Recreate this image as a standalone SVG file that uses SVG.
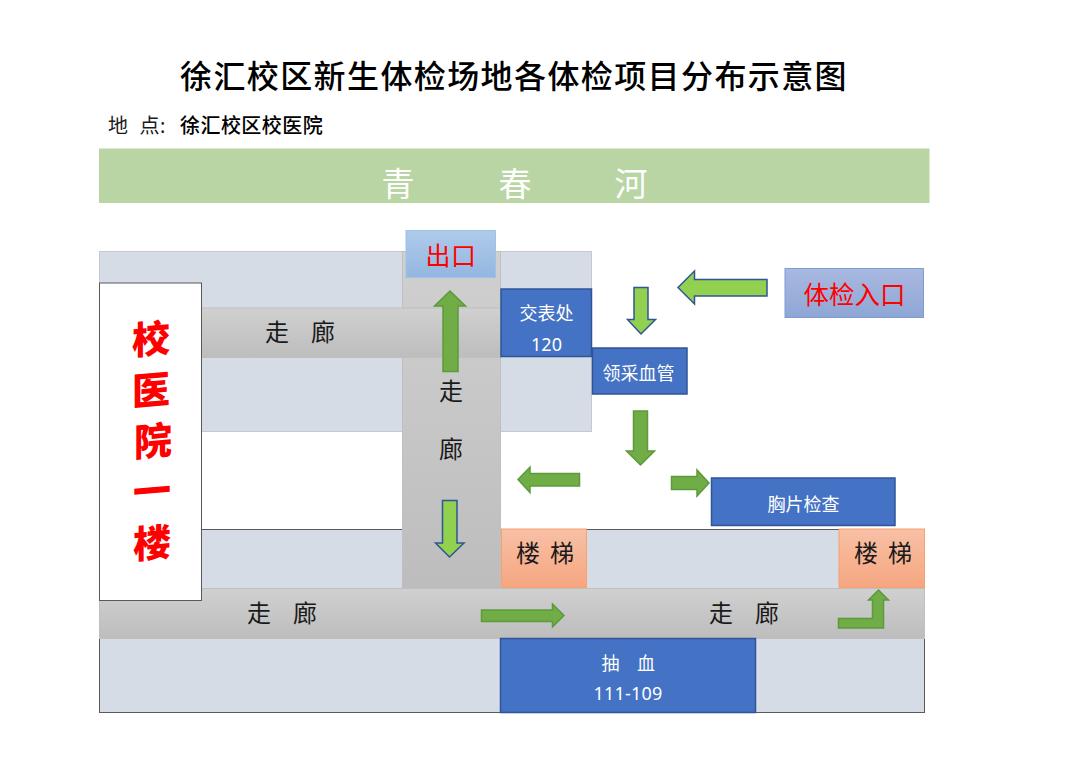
<svg xmlns="http://www.w3.org/2000/svg" width="1080" height="764" viewBox="0 0 1080 764">
<style>
text{font-family:"Noto Sans","Noto Sans CJK SC",sans-serif;text-anchor:middle}
.hall{fill:url(#gh);stroke:#bfbfbf;stroke-width:1}
.blue{fill:#4472c4;stroke:#2f5597;stroke-width:1.5}
.stair{fill:url(#gs);stroke:#f4a26f;stroke-width:1}
.w{fill:#fff;font-size:18px}
.k{fill:#1a1a1a;font-size:24px}
.dk{fill:#70ad47;stroke:#5c9a3a;stroke-width:1.500}
.lt{fill:#92d050;stroke:#2f5597;stroke-width:1.500}
.red{fill:#f00}
.cal{fill:#f00;font-size:38px;font-weight:900}
</style>
<defs>
<linearGradient id="gh" x1="0" y1="0" x2="0" y2="1"><stop offset="0" stop-color="#d0d0d0"/><stop offset="1" stop-color="#bdbdbd"/></linearGradient>
<linearGradient id="gs" x1="0" y1="0" x2="0" y2="1"><stop offset="0" stop-color="#f8c0a6"/><stop offset="1" stop-color="#f6a680"/></linearGradient>
<linearGradient id="gx" x1="0" y1="0" x2="0" y2="1"><stop offset="0" stop-color="#afcbea"/><stop offset="1" stop-color="#93b6e0"/></linearGradient>
<linearGradient id="gi" x1="0" y1="0" x2="0" y2="1"><stop offset="0" stop-color="#a9b9e0"/><stop offset="1" stop-color="#8fa6d6"/></linearGradient>
</defs>
<rect width="1080" height="764" fill="#fff"/>
<g id="title">
<text x="514" y="88" font-size="32" font-weight="500" letter-spacing="1.4" fill="#000">徐汇校区新生体检场地各体检项目分布示意图</text>
<text x="108" y="133" font-size="20" letter-spacing="0.4" fill="#1a1a1a" style="text-anchor:start" xml:space="preserve">地  点:</text>
<text x="180" y="133" font-size="20" font-weight="500" letter-spacing="0.45" fill="#000" style="text-anchor:start">徐汇校区校医院</text>
</g>
<g id="river">
<rect x="99" y="148.500" width="830.500" height="54.500" fill="#b8d5a3"/>
<text x="398" y="196" font-size="33" fill="#fff">青</text>
<text x="515" y="196" font-size="33" fill="#fff">春</text>
<text x="631" y="196" font-size="33" fill="#fff">河</text>
</g>
<g id="rooms">
<rect x="99.500" y="251.500" width="492" height="180" fill="#d6dce5" stroke="#c4c8cf" stroke-width="1"/>
<rect x="99.500" y="529.500" width="825" height="183" fill="#d6dce5" stroke="#595959" stroke-width="1"/>
</g>
<g id="halls">
<rect x="402.500" y="251.500" width="98" height="337" class="hall"/>
<rect x="201" y="308" width="300" height="49.500" class="hall"/>
<rect x="99.500" y="588.500" width="825" height="50" class="hall"/>
<text x="277" y="341" class="k">走</text>
<text x="323" y="341" class="k">廊</text>
<text x="451" y="400" class="k">走</text>
<text x="451" y="458" class="k">廊</text>
<text x="259" y="622" class="k">走</text>
<text x="305" y="622" class="k">廊</text>
<text x="721" y="622" class="k">走</text>
<text x="767" y="622" class="k">廊</text>
</g>
<g id="hospital">
<rect x="99.500" y="283" width="102" height="317.500" fill="#fff" stroke="#595959" stroke-width="1"/>
<text transform="translate(151 353) skewY(-5)" class="cal">校</text>
<text transform="translate(151 404) skewY(-5)" class="cal">医</text>
<text transform="translate(153 455) skewY(-5)" class="cal">院</text>
<text transform="translate(152 505) skewY(-5)" class="cal">一</text>
<text transform="translate(152 557) skewY(-5)" class="cal">楼</text>
</g>
<g id="exit">
<rect x="406" y="230.500" width="89.500" height="47" fill="url(#gx)" stroke="#9dc3e6" stroke-width="1"/>
<text x="451" y="265" font-size="25" letter-spacing="0.5" class="red">出口</text>
</g>
<g id="entrance">
<rect x="785" y="268.500" width="138.500" height="49" fill="url(#gi)" stroke="#7f9bd4" stroke-width="1"/>
<text x="854.500" y="303.500" font-size="25.500" class="red">体检入口</text>
</g>
<g id="watch">
<rect x="501" y="289" width="90.500" height="67.500" class="blue"/>
<text x="546.500" y="320" class="w">交表处</text>
<text x="546.500" y="351" class="w">120</text>
</g>
<g id="tube">
<rect x="592.500" y="348" width="94.500" height="46" class="blue"/>
<text x="638.500" y="380" class="w">领采血管</text>
</g>
<g id="xray">
<rect x="711.500" y="478" width="183.500" height="47.500" class="blue"/>
<text x="803.500" y="511" class="w">胸片检查</text>
</g>
<g id="blood">
<rect x="500.500" y="638.500" width="255" height="74" class="blue"/>
<text x="610.500" y="670" class="w">抽</text>
<text x="646" y="670" class="w">血</text>
<text x="628" y="700" class="w" letter-spacing="0.2">111-109</text>
</g>
<g id="stair1">
<rect x="501.500" y="529" width="85" height="58.500" class="stair"/>
<text x="528" y="562" class="k">楼</text>
<text x="562" y="562" class="k">梯</text>
</g>
<g id="stair2">
<rect x="839" y="529" width="85.500" height="58.500" class="stair"/>
<text x="866" y="562" class="k">楼</text>
<text x="900" y="562" class="k">梯</text>
</g>
<g id="arrows">
<path class="dk" d="M443 371.500V306H434.500L450 291L465.500 306H458V371.500Z"/>
<path class="lt" d="M442.500 500.500H457V543H464L449.500 557L435.500 543H442.500Z"/>
<path class="lt" d="M767 279.500H694.500V271L678 287.500L694.500 304V296H767Z"/>
<path class="lt" d="M634 287.500H648V319.500H655.500L641 334L627.500 319.500H634Z"/>
<path class="dk" d="M633.500 411H647.500V451H654.500L640.500 465L626.500 451H633.500Z"/>
<path class="dk" d="M579.500 473.500H530V467L518 479.500L530 492.500V486H579.500Z"/>
<path class="dk" d="M671.500 476.500H697V470L709 483L697 496V489.500H671.500Z"/>
<path class="dk" d="M481.500 610H552.500V604L564 615.500L552.500 627V621.500H481.500Z"/>
<path class="dk" d="M838.500 618.500H872.500V600H868.500L878.500 590L888.500 600H883.500V628H838.500Z"/>
</g>
</svg>
